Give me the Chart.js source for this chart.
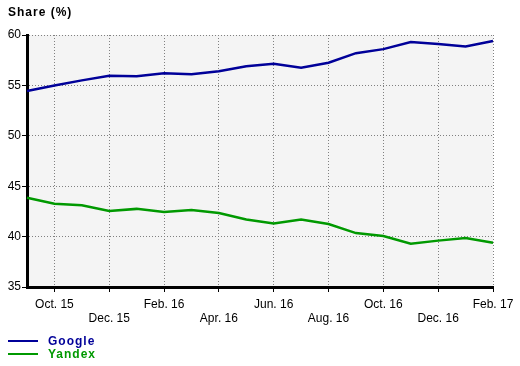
<!DOCTYPE html>
<html lang="en">
<head>
    <meta charset="UTF-8">
    <title>Share (%)</title>
    <style>
        body { margin: 0; background: #fff; }
        #wrap { width: 520px; height: 366px; }
    </style>
    <script src="https://cdn.jsdelivr.net/npm/chart.js"></script>
</head>
<body>
<div id="wrap"><canvas id="shareChart" width="520" height="366"></canvas></div>

<script>
    // months Sep. 15 .. Feb. 17
    const months = ['Sep. 15', 'Oct. 15', 'Nov. 15', 'Dec. 15', 'Jan. 16', 'Feb. 16', 'Mar. 16', 'Apr. 16', 'May 16',
        'Jun. 16', 'Jul. 16', 'Aug. 16', 'Sep. 16', 'Oct. 16', 'Nov. 16', 'Dec. 16', 'Jan. 17', 'Feb. 17'];
    const google = [54.45, 55.0, 55.5, 55.95, 55.9, 56.2, 56.1, 56.4, 56.9, 57.15, 56.75, 57.25, 58.2, 58.6, 59.3, 59.1, 58.85, 59.4];
    const yandex = [43.85, 43.25, 43.1, 42.55, 42.75, 42.45, 42.65, 42.35, 41.7, 41.3, 41.7, 41.25, 40.35, 40.05, 39.3, 39.6, 39.85, 39.4];
    const seriesNames = ['Google', 'Yandex'];
    const seriesColors = ['#000099', '#009900'];
    const yTicks = [35, 40, 45, 50, 55, 60];

    const font = '"Liberation Sans", Arial, sans-serif';

    // grey plot background, title and legend
    const decor = {
        id: 'decor',
        beforeDraw(chart) {
            const { ctx, chartArea } = chart;
            ctx.save();
            ctx.fillStyle = '#f4f4f4';
            ctx.fillRect(chartArea.left, chartArea.top, chartArea.right - chartArea.left, chartArea.bottom - chartArea.top);
            ctx.restore();
        },
        afterDraw(chart) {
            const ctx = chart.ctx;
            ctx.save();
            ctx.fillStyle = '#000';
            ctx.font = 'bold 12px ' + font;
            ctx.letterSpacing = '1px';
            ctx.textBaseline = 'middle';
            ctx.fillText('Share (%)', 8, 13);

            chart.data.datasets.forEach((ds, i) => {
                const y = 341 + i * 13;
                ctx.strokeStyle = ds.borderColor;
                ctx.lineWidth = 2;
                ctx.beginPath();
                ctx.moveTo(8, y);
                ctx.lineTo(38, y);
                ctx.stroke();
                ctx.fillStyle = ds.borderColor;
                ctx.fillText(ds.label, 48, y + 1);
            });
            ctx.restore();
        }
    };

    new Chart(document.getElementById('shareChart'), {
        type: 'line',
        data: {
            labels: months,
            datasets: [
                { label: seriesNames[0], data: google, borderColor: seriesColors[0], borderWidth: 2.5, pointRadius: 0, tension: 0 },
                { label: seriesNames[1], data: yandex, borderColor: seriesColors[1], borderWidth: 2.5, pointRadius: 0, tension: 0 }
            ]
        },
        options: {
            responsive: false,
            animation: false,
            layout: { padding: { left: 0, right: 27, top: 35, bottom: 39 } },
            plugins: { legend: { display: false }, tooltip: { enabled: false } },
            scales: {
                x: {
                    offset: false,
                    afterFit(s) { s.height = 40; },
                    grid: {
                        color: c => c.index % 2 === 1 ? '#808080' : 'rgba(0,0,0,0)',
                        tickColor: c => c.index % 2 === 1 ? '#000' : 'rgba(0,0,0,0)',
                        tickLength: 5,
                        lineWidth: 1,
                        tickWidth: 1
                    },
                    border: { color: '#000', width: 3, dash: [1, 2] },
                    ticks: {
                        autoSkip: false,
                        maxRotation: 0,
                        padding: 5,
                        color: '#000',
                        font: { family: font, size: 12 },
                        callback: (v, i) => {
                            if (i % 2 === 0) return '';
                            return ((i - 1) / 2) % 2 === 0 ? [months[i], ''] : ['', months[i]];
                        }
                    }
                },
                y: {
                    min: 35,
                    max: 60,
                    afterFit(s) { s.width = 27; },
                    afterBuildTicks(s) { s.ticks = yTicks.map(v => ({ value: v })); },
                    grid: { color: '#808080', tickColor: '#000', tickLength: 5, lineWidth: 1 },
                    border: { color: '#000', width: 3, dash: [1, 2] },
                    ticks: { padding: 1, color: '#000', font: { family: font, size: 12 } }
                }
            }
        },
        plugins: [decor]
    });
</script>
</body>
</html>
